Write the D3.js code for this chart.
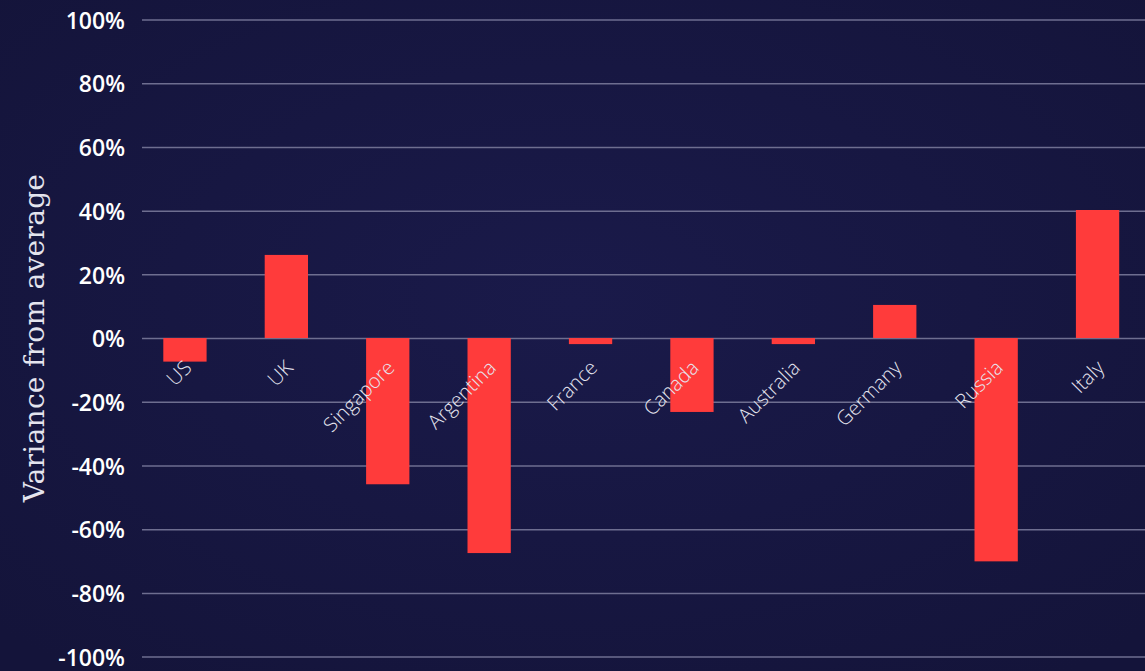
<!DOCTYPE html>
<html>
<head>
<meta charset="utf-8">
<script src="https://cdn.jsdelivr.net/npm/d3@7"></script>
<style>
  html, body { margin: 0; padding: 0; background: #17173f; }
  svg { display: block; }
</style>
</head>
<body>
<script>
// Data.
const countries = ['US', 'UK', 'Singapore', 'Argentina', 'France', 'Canada', 'Australia', 'Germany', 'Russia', 'Italy']
const variance = [-0.074, 0.261, -0.459, -0.675, -0.019, -0.232, -0.019, 0.104, -0.701, 0.402]
const yTicks = [1, 0.8, 0.6, 0.4, 0.2, 0, -0.2, -0.4, -0.6, -0.8, -1]

const W = 1145
const H = 671

const svg = d3.select('body')
  .append('svg')
    .attr('width', W)
    .attr('height', H)

// Background with a faint glow in the middle.
const defs = svg.append('defs')
const grad = defs.append('radialGradient')
    .attr('id', 'bg')
    .attr('cx', '50%').attr('cy', '45%').attr('r', '70%')
grad.append('stop').attr('offset', '0%').attr('stop-color', '#1a1a4a')
grad.append('stop').attr('offset', '100%').attr('stop-color', '#14143a')

svg.append('rect')
    .attr('width', W)
    .attr('height', H)
    .attr('fill', 'url(#bg)')

// Scales.
const x = d3.scaleBand()
    .domain(countries)
    .range([142, 1140.5])
    .paddingInner(0.573)
    .paddingOuter(0.21)

const y = d3.scaleLinear()
    .domain([-1, 1])
    .range([656.6, 19.5])

// plain hyphen for negatives, like the original
const pct = d => Math.round(d * 100) + '%'

// Y axis: gridlines + labels.
const yAxis = svg.append('g')
    .attr('transform', 'translate(142, 0)')
    .call(d3.axisLeft(y)
      .tickValues(yTicks)
      .tickSize(-(W - 142))
      .tickFormat(pct))

yAxis.select('.domain').remove()
yAxis.selectAll('.tick line')
    .attr('stroke', '#6e6e90')
    .attr('stroke-width', 1.5)
yAxis.selectAll('.tick text')
    .attr('x', -17)
    .attr('dy', '0.38em')
    .attr('fill', '#ffffff')
    .style('font-family', '"Open Sans", sans-serif')
    .style('font-weight', 600)
    .style('font-size', '23px')

// Bars.
svg.append('g')
  .selectAll('rect')
  .data(variance)
  .join('rect')
    .attr('x', (d, i) => x(countries[i]))
    .attr('width', x.bandwidth())
    .attr('y', d => y(Math.max(0, d)))
    .attr('height', d => Math.abs(y(d) - y(0)))
    .attr('fill', '#ff3b3b')

// Category labels, rotated.
svg.append('g')
  .selectAll('text')
  .data(countries)
  .join('text')
    .attr('transform', d => `translate(${x(d) + x.bandwidth() / 2 + 8}, ${y(0) + 31}) rotate(-45)`)
    .attr('text-anchor', 'end')
    .attr('fill', '#e6e6f0')
    .style('font-family', '"Open Sans", sans-serif')
    .style('font-weight', 300)
    .style('font-size', '20px')
    .text(d => d)

// Y axis title.
svg.append('text')
    .attr('transform', `translate(44, ${y(0)}) rotate(-90)`)
    .attr('text-anchor', 'middle')
    .attr('fill', '#e4e4ee')
    .style('font-family', '"DejaVu Serif", serif')
    .style('font-size', '28px')
    .style('letter-spacing', '0.3px')
    .text('Variance from average')
</script>
</body>
</html>
